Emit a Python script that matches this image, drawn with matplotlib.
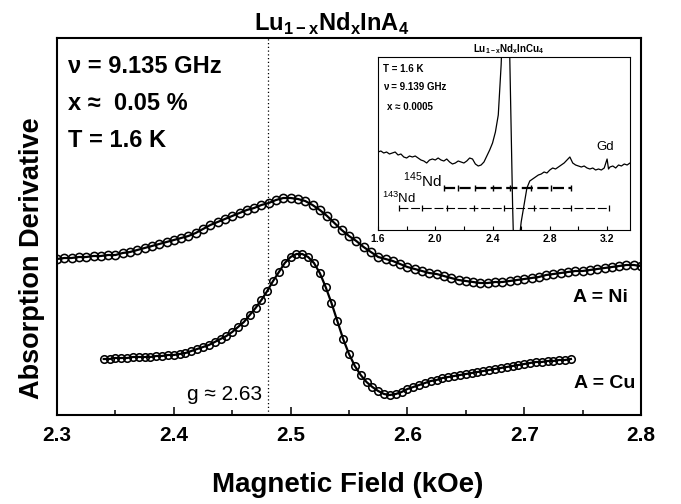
import numpy as np
import matplotlib
matplotlib.use("Agg")
import matplotlib.pyplot as plt

plt.rcParams["font.family"] = ["Liberation Sans", "DejaVu Sans"]

W, H = 681, 504

# main panel: field sweep (kOe) and derivative signal (arb. units)
field_ni = np.linspace(2.30, 2.80, 81)
signal_ni = [156, 157, 157, 158, 158, 159, 159, 160, 160, 162,
             163, 165, 167, 169, 171, 173, 175, 177, 179, 182,
             186, 190, 193, 196, 199, 202, 205, 207, 210, 212,
             215, 217, 217, 216, 214, 210, 205, 199, 192, 185,
             179, 174, 168, 163, 158, 156, 154, 151, 148, 146,
             144, 142, 141, 139, 137, 135, 134, 133, 132, 132,
             133, 133, 134, 135, 136, 137, 138, 140, 141, 142,
             143, 144, 144, 145, 146, 147, 148, 149, 150, 150, 149]

field_cu = np.linspace(2.34, 2.74, 81)
signal_cu = [56, 56, 57, 57, 57, 58, 58, 58, 58, 59,
             59, 60, 60, 61, 62, 64, 66, 68, 70, 73,
             76, 79, 83, 88, 93, 100, 107, 115, 124, 134,
             143, 152, 158, 161, 161, 158, 152, 142, 128, 112,
             94, 76, 61, 49, 40, 33, 28, 24, 21, 20,
             21, 23, 26, 28, 30, 32, 34, 35, 37, 38,
             39, 40, 41, 42, 43, 44, 45, 46, 47, 48,
             49, 50, 51, 52, 53, 53, 54, 54, 55, 55, 56]

g_field = 2.481
xticks = [2.3, 2.4, 2.5, 2.6, 2.7, 2.8]
xtick_labels = ["2.3", "2.4", "2.5", "2.6", "2.7", "2.8"]

# inset: wide sweep of the Cu sample
inset_field = [1.60, 1.62, 1.64, 1.66, 1.68, 1.70, 1.72, 1.74, 1.76, 1.78,
               1.80, 1.82, 1.84, 1.86, 1.88, 1.90, 1.92, 1.94, 1.96, 1.98,
               2.00, 2.02, 2.04, 2.06, 2.08, 2.10, 2.12, 2.14, 2.16, 2.18,
               2.20, 2.22, 2.24, 2.26, 2.28, 2.30, 2.32, 2.34, 2.36, 2.38,
               2.40, 2.42, 2.44, 2.46, 2.48, 2.50, 2.52, 2.53, 2.54, 2.55,
               2.56, 2.57, 2.58, 2.59, 2.60, 2.62, 2.64, 2.66, 2.68, 2.70,
               2.72, 2.74, 2.76, 2.78, 2.80, 2.82, 2.84, 2.86, 2.88, 2.90,
               2.92, 2.94, 2.96, 2.98, 3.00, 3.02, 3.04, 3.06, 3.08, 3.10,
               3.12, 3.14, 3.16, 3.18, 3.20, 3.21, 3.22, 3.24, 3.26, 3.28,
               3.30, 3.32, 3.34, 3.36]
inset_signal = [78, 79, 77, 78, 76, 77, 78, 75, 76, 73,
                72, 74, 73, 74, 72, 70, 69, 67, 70, 71,
                70, 72, 70, 69, 71, 68, 66, 67, 69, 68,
                67, 69, 72, 71, 66, 64, 65, 68, 74, 80,
                87, 98, 115, 165, 240, 300, 175, 100, 25, -30,
                -60, -60, -35, -5, 8, 25, 42, 49, 51, 53,
                55, 56, 58, 57, 60, 62, 61, 63, 65, 67,
                70, 73, 67, 65, 64, 63, 64, 62, 61, 62,
                60, 61, 60, 62, 71, 61, 63, 64, 62, 65,
                64, 66, 65, 67]
nd145_lines = [2.06, 2.16, 2.28, 2.40, 2.52, 2.67, 2.81, 2.95]
nd143_lines = [1.75, 1.91, 2.08, 2.27, 2.48, 2.69, 2.95, 3.21]
nd145_level = 42
nd143_level = 22
inset_ticks = [1.6, 2.0, 2.4, 2.8, 3.2]
inset_tick_labels = ["1.6", "2.0", "2.4", "2.8", "3.2"]


def fx(px):
    return px / W


def fy(py):
    return 1 - py / H


fig = plt.figure(figsize=(W / 100, H / 100), dpi=100)
ax = fig.add_axes([fx(57), fy(415), 584 / W, 377 / H])

ax.plot(field_ni, signal_ni, color="k", lw=1.6)
ax.plot(field_ni, signal_ni, "o", mfc="none", mec="k", ms=5.9, mew=1.15)
ax.plot(field_cu, signal_cu, color="k", lw=1.6)
ax.plot(field_cu, signal_cu, "o", mfc="none", mec="k", ms=5.4, mew=1.15)
ax.axvline(g_field, color="k", ls=(0, (1, 2)), lw=0.9)

ax.set_xlim(2.3, 2.8)
ax.set_ylim(0, 377)
ax.set_yticks([])
ax.set_xticks(xticks)
ax.set_xticklabels(xtick_labels, fontweight="bold")
ax.set_xticks(np.arange(2.35, 2.8, 0.1), minor=True)
ax.tick_params(axis="x", which="both", direction="in", width=1.1, labelsize=15, pad=8)
ax.tick_params(axis="x", which="major", length=5.5)
ax.tick_params(axis="x", which="minor", length=3.5)
for s in ax.spines.values():
    s.set_linewidth(1.5)

fig.text(fx(348), fy(492), "Magnetic Field (kOe)", ha="center", va="baseline",
         fontsize=20, fontweight="bold")
fig.text(fx(32), fy(258), "Absorption Derivative", ha="center", va="center",
         rotation=90, fontsize=19.5, fontweight="bold")
fig.text(fx(332), fy(31), r"Lu$_{\mathregular{1-x}}$Nd$_{\mathregular{x}}$InA$_{\mathregular{4}}$",
         ha="center", va="baseline", fontsize=17, fontweight="bold")

fig.text(fx(68), fy(73), "ν = 9.135 GHz", fontsize=17, fontweight="bold", va="baseline")
fig.text(fx(68), fy(110), "x ≈  0.05 %", fontsize=17, fontweight="bold", va="baseline")
fig.text(fx(68), fy(147), "T = 1.6 K", fontsize=17, fontweight="bold", va="baseline")
fig.text(fx(628), fy(302), "A = Ni", fontsize=14, fontweight="bold", ha="right", va="baseline")
fig.text(fx(635), fy(388), "A = Cu", fontsize=14, fontweight="bold", ha="right", va="baseline")
fig.text(fx(262), fy(400), "g ≈ 2.63", fontsize=15, ha="right", va="baseline")

# inset
axi = fig.add_axes([fx(378), fy(230), 252 / W, 173 / H])
axi.plot(inset_field, inset_signal, color="k", lw=0.9)
axi.plot(nd145_lines, [nd145_level] * len(nd145_lines), color="k", lw=1.6,
         ls=(0, (5, 2)), marker="|", ms=5, mew=1.0)
axi.plot(nd143_lines, [nd143_level] * len(nd143_lines), color="k", lw=0.8,
         ls=(0, (8, 2.5)), marker="|", ms=5, mew=0.9)
axi.set_xlim(1.6, 3.36)
axi.set_ylim(0, 173)
axi.set_yticks([])
axi.set_xticks(inset_ticks)
axi.set_xticklabels(inset_tick_labels, fontweight="bold")
axi.set_xticks(np.arange(1.8, 3.3, 0.4), minor=True)
axi.tick_params(axis="x", which="both", direction="in", length=3, width=0.8,
                labelsize=7.5, pad=3)
for s in axi.spines.values():
    s.set_linewidth(0.8)

fig.text(fx(509), fy(52), r"Lu$_{\mathregular{1-x}}$Nd$_{\mathregular{x}}$InCu$_{\mathregular{4}}$",
         ha="center", va="baseline", fontsize=7, fontweight="bold")
fig.text(fx(383), fy(72), "T = 1.6 K", fontsize=7, fontweight="bold", va="baseline")
fig.text(fx(383), fy(90), "ν = 9.139 GHz", fontsize=7, fontweight="bold", va="baseline")
fig.text(fx(387), fy(110), "x ≈ 0.0005", fontsize=7, fontweight="bold", va="baseline")
fig.text(fx(605), fy(150), "Gd", fontsize=9.5, ha="center", va="baseline")
fig.text(fx(442), fy(187), r"$^{\mathregular{145}}$Nd", fontsize=11, ha="right", va="baseline")
fig.text(fx(382), fy(203), r"$^{\mathregular{143}}$Nd", fontsize=9.5, ha="left", va="baseline")

fig.savefig("out.png", dpi=100)
